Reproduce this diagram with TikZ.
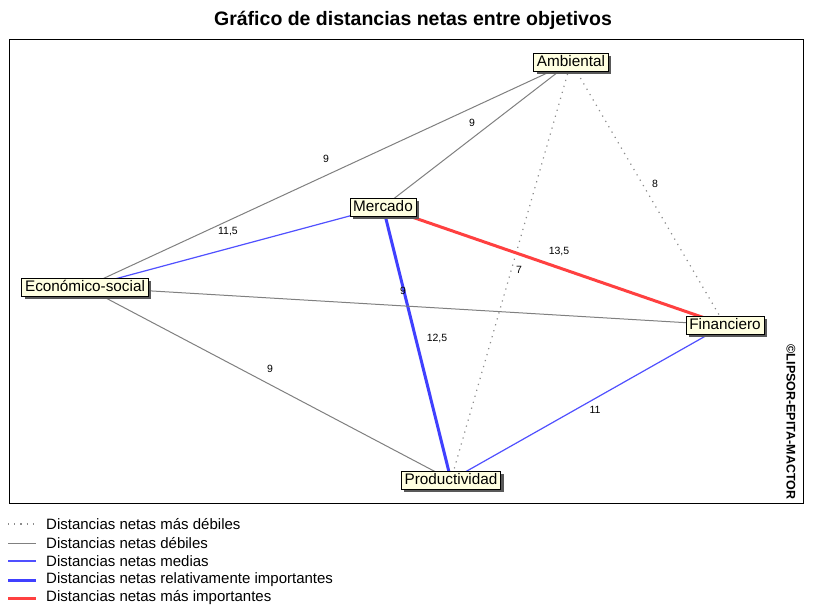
\documentclass[tikz,border=0pt]{standalone}
\usepackage{fontspec}
\setmainfont{Liberation Sans}
\usetikzlibrary{shadows}
\pgfdeclarelayer{bg}
\pgfdeclarelayer{background}
\pgfsetlayers{bg,background,main}
\definecolor{nodefill}{RGB}{255,255,225}
\definecolor{weakgray}{RGB}{128,128,128}
\definecolor{dotgray}{RGB}{140,140,140}
\definecolor{bluethin}{RGB}{80,80,255}
\definecolor{bluethick}{RGB}{64,64,255}
\definecolor{redthick}{RGB}{255,64,64}
\tikzset{
  objbox/.style={draw=black, fill=nodefill, line width=0.8pt,
    font=\fontsize{15.3}{15.3}\selectfont, inner xsep=3.2pt, inner ysep=1.5pt,
    text height=11.8pt, text depth=3.4pt,
    drop shadow={shadow xshift=3pt, shadow yshift=-3pt, fill=black!65, opacity=1}},
  lbl/.style={font=\fontsize{10.5}{10.5}\selectfont, inner sep=0pt},
  leg/.style={font=\fontsize{15}{15}\selectfont, anchor=west, inner sep=0pt},
  masdebil/.style={draw=dotgray, line width=1.2pt, dash pattern=on 1.2pt off 5pt},
  debil/.style={draw=weakgray, line width=1pt},
  media/.style={draw=bluethin, line width=1.2pt},
  relimp/.style={draw=bluethick, line width=3pt},
  masimp/.style={draw=redthick, line width=3pt}
}
\begin{document}
\begin{tikzpicture}[x=1pt,y=-1pt]
\begin{pgfonlayer}{bg}
\fill[white] (0,0) rectangle (817,606);
\end{pgfonlayer}
\useasboundingbox (0,0) rectangle (817,606);

% title
\node[font=\bfseries\fontsize{19.5}{19.5}\selectfont, inner sep=0pt] (title) at (413,20) {Gráfico de distancias netas entre objetivos};

% frame
\draw[black, line width=1pt] (9,39) rectangle (803,503);

% objective nodes
\node[objbox] (amb) at (571,62) {Ambiental};
\node[objbox] (mer) at (383,207) {Mercado};
\node[objbox] (eco) at (85,287) {Económico-social};
\node[objbox] (fin) at (725,325) {Financiero};
\node[objbox] (pro) at (451,480) {Productividad};

% connectors
\begin{pgfonlayer}{background}
\draw[debil] (amb.center) -- (eco.center);
\draw[debil] (amb.center) -- (mer.center);
\draw[masdebil] (amb.center) -- (pro.center);
\draw[masdebil] (amb.center) -- (fin.center);
\draw[media] (mer.center) -- (eco.center);
\draw[masimp] (mer.center) -- (fin.center);
\draw[relimp] (mer.center) -- (pro.center);
\draw[debil] (eco.center) -- (fin.center);
\draw[debil] (eco.center) -- (pro.center);
\draw[media] (fin.center) -- (pro.center);
\end{pgfonlayer}

% edge labels
\node[lbl] (l1) at (326,159) {9};
\node[lbl] (l2) at (472,123) {9};
\node[lbl] (l3) at (519,270) {7};
\node[lbl] (l4) at (655,184) {8};
\node[lbl] (l5) at (228,232) {11,5};
\node[lbl] (l6) at (559,251) {13,5};
\node[lbl] (l7) at (437,338) {12,5};
\node[lbl] (l8) at (403,291) {9};
\node[lbl] (l9) at (270,369) {9};
\node[lbl] (l10) at (595,410) {11};

% copyright
\node[font=\bfseries\fontsize{12.5}{12.5}\selectfont, rotate=-90, inner sep=0pt] (copy) at (791,422) {©LIPSOR-EPITA-MACTOR};

% legend
\coordinate (g1a) at (8,524); \coordinate (g1b) at (36,524);
\coordinate (g2a) at (8,543); \coordinate (g2b) at (36,543);
\coordinate (g3a) at (8,561); \coordinate (g3b) at (36,561);
\coordinate (g4a) at (8,580); \coordinate (g4b) at (36,580);
\coordinate (g5a) at (8,598); \coordinate (g5b) at (36,598);
\draw[masdebil] (g1a) -- (g1b);
\draw[debil] (g2a) -- (g2b);
\draw[media] (g3a) -- (g3b);
\draw[relimp] (g4a) -- (g4b);
\draw[masimp] (g5a) -- (g5b);
\node[leg] (t1) at (46,524) {Distancias netas más débiles};
\node[leg] (t2) at (46,543) {Distancias netas débiles};
\node[leg] (t3) at (46,561) {Distancias netas medias};
\node[leg] (t4) at (46,580) {Distancias netas relativamente importantes};
\node[leg] (t5) at (46,598) {Distancias netas más importantes};
\end{tikzpicture}
\end{document}
